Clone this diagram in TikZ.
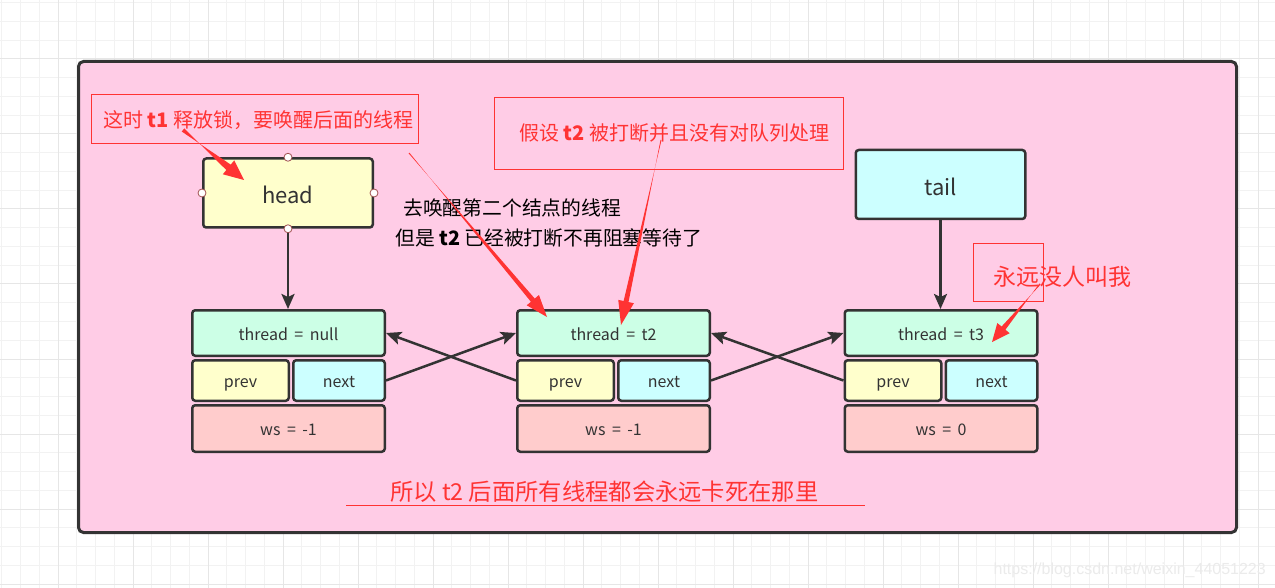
\documentclass[tikz,border=0pt]{standalone}
\usepackage{fontspec}
\setmainfont{Noto Sans CJK SC}
\newfontfamily\cellfont[WordSpace=1.8]{Noto Sans CJK SC}
\usetikzlibrary{arrows.meta,positioning,calc}

\definecolor{boardpink}{HTML}{FFCCE6}
\definecolor{mintfill}{HTML}{CCFFE6}
\definecolor{yellowfill}{HTML}{FFFFCC}
\definecolor{cyanfill}{HTML}{CCFFFF}
\definecolor{rosefill}{HTML}{FFCCCC}
\definecolor{darkline}{HTML}{333333}
\definecolor{annred}{HTML}{FF3333}
\definecolor{minorgrid}{HTML}{F2F2F2}
\definecolor{majorgrid}{HTML}{E6E6E6}
\definecolor{portline}{HTML}{A05050}

% tapered red callout arrow: start, tip, start half width, shaft half width, head length, head half width
\newcommand{\taperarrow}[6]{%
  \coordinate (hb) at ($(#2)!#5!(#1)$);
  \fill[annred] ($(#1)!#3!90:(#2)$) -- ($(hb)!#4!-90:(#2)$) -- ($(hb)!#6!-90:(#2)$) -- (#2)
    -- ($(hb)!#6!90:(#2)$) -- ($(hb)!#4!90:(#2)$) -- ($(#1)!#3!-90:(#2)$) -- cycle;
}

\tikzset{
  cell/.style={draw=darkline, line width=2.5pt, rounded corners=3pt, inner sep=0pt,
    text=darkline, font=\cellfont\fontsize{16}{19}\selectfont, text height=17pt, text depth=3pt},
  thr/.style={cell, fill=mintfill, minimum width=192.5pt, minimum height=45.5pt},
  prv/.style={cell, fill=yellowfill, minimum width=96.5pt, minimum height=40.5pt},
  nxt/.style={cell, fill=cyanfill, minimum width=91.5pt, minimum height=40.5pt},
  wsc/.style={cell, fill=rosefill, minimum width=192.5pt, minimum height=46.5pt},
  pointer/.style={cell, minimum width=169.5pt, minimum height=69pt, font=\fontsize{22}{26}\selectfont,
    text height=26pt, text depth=4pt},
  port/.style={circle, draw=portline, fill=white, line width=0.8pt, inner sep=0pt, minimum size=8pt},
  notebox/.style={draw=annred, line width=1pt, inner sep=0pt},
  note/.style={text=annred, inner sep=0pt, anchor=west, font=\fontsize{20}{24}\selectfont},
  remark/.style={text=black, inner sep=0pt, anchor=west, font=\fontsize{19.8}{23}\selectfont},
  link/.style={draw=darkline, line width=2.5pt, -{Stealth[length=15pt,width=13pt,inset=3pt]}},
}

\begin{document}
\begin{tikzpicture}[x=1pt, y=-1pt]
\useasboundingbox (0,0) rectangle (1275,588);
\fill[white] (0,0) rectangle (1275,588);
% grid
\foreach \k in {0,...,68} \draw[minorgrid, line width=1pt] (1.75+18.75*\k,0) -- (1.75+18.75*\k,588);
\foreach \k in {0,...,31} \draw[minorgrid, line width=1pt] (0,2.75+18.75*\k) -- (1275,2.75+18.75*\k);
\foreach \k in {0,...,16} \draw[majorgrid, line width=1pt] (58+75*\k,0) -- (58+75*\k,588);
\foreach \k in {0,...,7} \draw[majorgrid, line width=1pt] (0,59+75*\k) -- (1275,59+75*\k);
\node[text=black!8, inner sep=0pt, anchor=east, font=\fontsize{16}{19}\selectfont\fontspec{Liberation Sans}] (mark) at (1266,570) {https://blog.csdn.net/weixin\_44051223};

% board
\node[draw=darkline, line width=3pt, fill=boardpink, rounded corners=5pt, minimum width=1158pt, minimum height=471pt] (board) at (657.5,297) {};

% head and tail
\node[pointer, fill=yellowfill] (head) at (288,193) {head};
\node[pointer, fill=cyanfill] (tail) at (940.5,184.5) {tail};

% queue nodes
\node[thr] (t1) at (288.5,333) {thread = null};
\node[prv, below=2pt of t1.south west, anchor=north west] (p1) {prev};
\node[nxt, below=2pt of t1.south east, anchor=north east] (n1) {next};
\node[wsc, below=2pt of p1.south west, anchor=north west] (w1) {ws = -1};

\node[thr] (t2) at (613.5,333) {thread = t2};
\node[prv, below=2pt of t2.south west, anchor=north west] (p2) {prev};
\node[nxt, below=2pt of t2.south east, anchor=north east] (n2) {next};
\node[wsc, below=2pt of p2.south west, anchor=north west] (w2) {ws = -1};

\node[thr] (t3) at (941,333) {thread = t3};
\node[prv, below=2pt of t3.south west, anchor=north west] (p3) {prev};
\node[nxt, below=2pt of t3.south east, anchor=north east] (n3) {next};
\node[wsc, below=2pt of p3.south west, anchor=north west] (w3) {ws = 0};

\draw[link] (head) -- (head |- t1.north);
\draw[link] (tail) -- (tail |- t3.north);
\draw[link] (n1.east) -- (t2.west);
\draw[link] (p2.west) -- (t1.east);
\draw[link] (n2.east) -- (t3.west);
\draw[link] (p3.west) -- (t2.east);

\node[port] (hn) at (head.north) {};
\node[port] (hs) at (head.south) {};
\node[port] (hw) at (head.west) {};
\node[port] (he) at (head.east) {};

% notes
\node[notebox, minimum width=327pt, minimum height=49pt] (nb1) at (254.5,119.5) {};
\node[notebox, minimum width=349pt, minimum height=72pt] (nb2) at (668.5,134) {};
\node[notebox, minimum width=70pt, minimum height=57pt] (nb3) at (1008,272.5) {};
\node[note] (nt1) at (103,120) {这时 \textbf{t1} 释放锁，要唤醒后面的线程};
\node[note] (nt2) at (519,133) {假设 \textbf{t2} 被打断并且没有对队列处理};
\node[note, font=\fontsize{23}{27}\selectfont] (nt3) at (993,277) {永远没人叫我};
\node[remark] (rm1) at (403,208) {去唤醒第二个结点的线程};
\node[remark] (rm2) at (395,238) {但是 \textbf{t2} 已经被打断不再阻塞等待了};
\node[note, font=\fontsize{23.3}{27}\selectfont] (sum) at (390,492) {所以 t2 后面所有线程都会永远卡死在那里};
\coordinate (ul1) at (346,505);
\coordinate (ul2) at (865,505);
\draw[annred, line width=1pt] (ul1) -- (ul2);

% callout arrows
\coordinate (a1s) at (183,130);
\coordinate (a1t) at (244,180);
\coordinate (a2s) at (409,153);
\coordinate (a2t) at (547,317);
\coordinate (a3s) at (661,140);
\coordinate (a3t) at (621,325);
\coordinate (a4s) at (1040,284);
\coordinate (a4t) at (992,342);
\taperarrow{a1s}{a1t}{2pt}{3.5pt}{20pt}{9pt}
\taperarrow{a2s}{a2t}{0.5pt}{2.5pt}{22pt}{8pt}
\taperarrow{a3s}{a3t}{0.5pt}{2.5pt}{24pt}{8pt}
\taperarrow{a4s}{a4t}{0.8pt}{2.5pt}{18pt}{8pt}
\end{tikzpicture}
\end{document}
